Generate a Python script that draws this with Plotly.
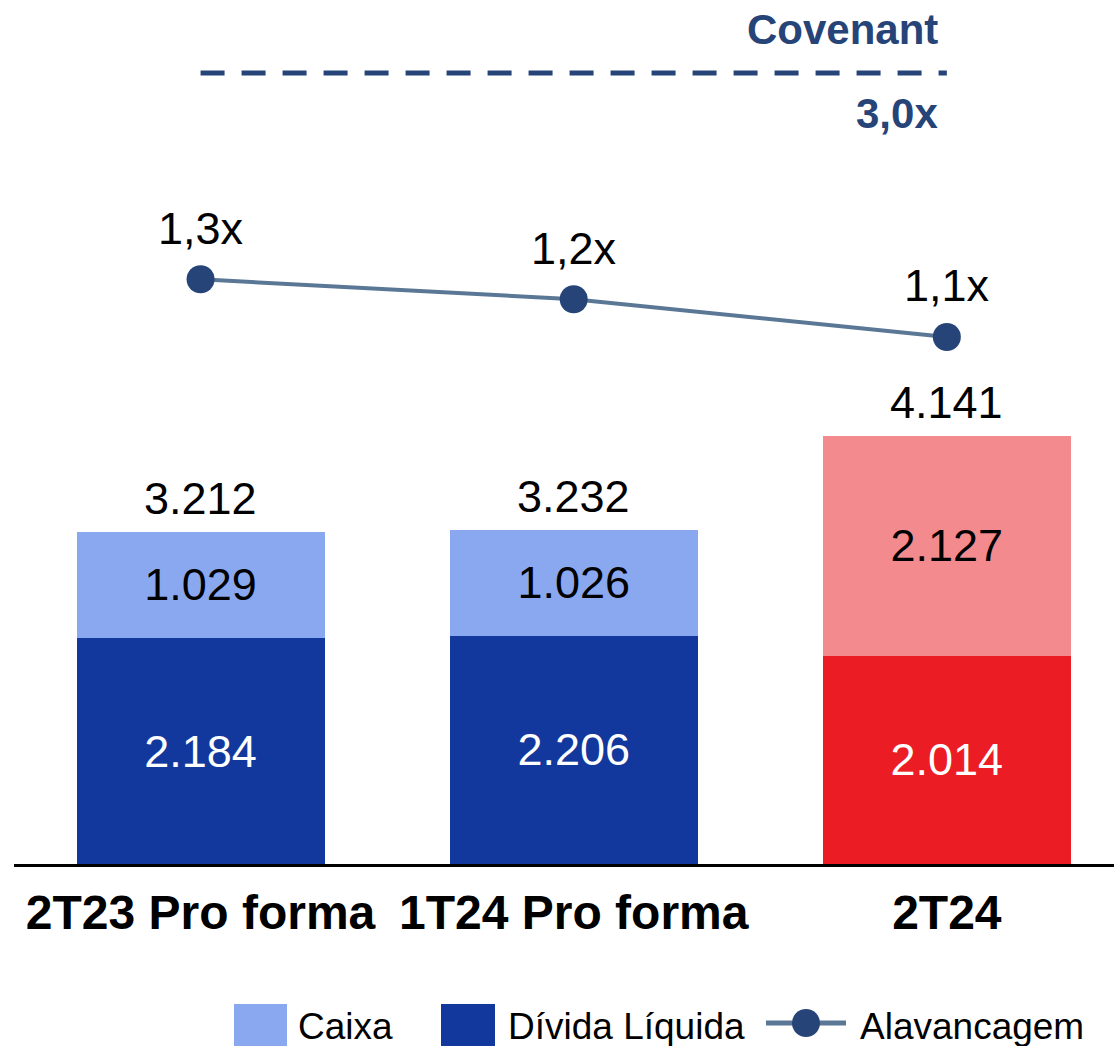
import plotly.graph_objects as go

# --- data -----------------------------------------------------------------
categories = ["2T23 Pro forma", "1T24 Pro forma", "2T24"]
divida_liquida = [2184, 2206, 2014]
caixa = [1029, 1026, 2127]
totais = [3212, 3232, 4141]
alavancagem = [1.33, 1.24, 1.07]
alavancagem_labels = ["1,3x", "1,2x", "1,1x"]
covenant = 3.0
covenant_label = "3,0x"

# --- style ----------------------------------------------------------------
DARK = "#12389E"
LIGHT = "#8AA8F0"
RED = "#EC1C24"
PINK = "#F38A8E"
NAVY = "#264478"
SLATE = "#5B7796"
FONT = "Liberation Sans, Arial, sans-serif"

W, H = 1114, 1046
ML, MB = 14, 182
PW, PH = W - ML, H - MB


def fmt(v):
    return f"{v:,}".replace(",", ".")


def px_x(p):
    return (p - ML) / PW


def px_y(p):
    return (PH - p) / PH


xs = list(range(len(categories)))
stack_top = [a + b for a, b in zip(divida_liquida, caixa)]

fig = go.Figure()
fig.add_trace(go.Bar(
    x=xs, y=divida_liquida, width=0.665, name="Dívida Líquida",
    marker=dict(color=[DARK, DARK, RED], line=dict(width=0)),
    text=[fmt(v) for v in divida_liquida], textposition="inside",
    insidetextanchor="middle", constraintext="none",
    textfont=dict(color="white", size=45, family=FONT),
    showlegend=False, hoverinfo="skip",
))
fig.add_trace(go.Bar(
    x=xs, y=caixa, width=0.665, name="Caixa",
    marker=dict(color=[LIGHT, LIGHT, PINK], line=dict(width=0)),
    text=[fmt(v) for v in caixa], textposition="inside",
    insidetextanchor="middle", constraintext="none",
    textfont=dict(color="black", size=45, family=FONT),
    showlegend=False, hoverinfo="skip",
))
fig.add_trace(go.Scatter(
    x=xs, y=alavancagem, yaxis="y2", mode="lines+markers", name="Alavancagem",
    line=dict(color=SLATE, width=4),
    marker=dict(color=NAVY, size=28, line=dict(width=0)),
    showlegend=False, hoverinfo="skip",
))
fig.add_trace(go.Scatter(
    x=[xs[0], xs[-1]], y=[covenant, covenant], yaxis="y3", mode="lines",
    line=dict(color=NAVY, width=5, dash="24px,17px"),
    showlegend=False, hoverinfo="skip",
))

ann = []
for x, top, t in zip(xs, stack_top, totais):
    ann.append(dict(x=x, y=top, xref="x", yref="y", text=fmt(t), showarrow=False,
                    yshift=33, font=dict(size=45, color="black", family=FONT)))
for x, v, lab in zip(xs, alavancagem, alavancagem_labels):
    ann.append(dict(x=x, y=v, xref="x", yref="y2", text=lab, showarrow=False,
                    yshift=51, font=dict(size=45, color="black", family=FONT)))
ann.append(dict(x=xs[-1], y=covenant, xref="x", yref="y3", text="<b>Covenant</b>",
                showarrow=False, xanchor="right", xshift=-7, yshift=44,
                font=dict(size=42, color=NAVY, family=FONT)))
ann.append(dict(x=xs[-1], y=covenant, xref="x", yref="y3", text=f"<b>{covenant_label}</b>",
                showarrow=False, xanchor="right", xshift=-7, yshift=-40,
                font=dict(size=42, color=NAVY, family=FONT)))

# legend, drawn by hand so the swatches keep their size
legend_font = dict(size=37, color="black", family=FONT)
for left, label in [(296, "Caixa"), (506, "Dívida Líquida"), (858, "Alavancagem")]:
    ann.append(dict(x=px_x(left), y=px_y(1026), xref="paper", yref="paper", text=label,
                    showarrow=False, xanchor="left", yanchor="middle", font=legend_font))

shapes = [
    dict(type="rect", xref="paper", yref="paper", x0=px_x(234), x1=px_x(287),
         y0=px_y(1004), y1=px_y(1058), fillcolor=LIGHT, line=dict(width=0)),
    dict(type="rect", xref="paper", yref="paper", x0=px_x(441), x1=px_x(495),
         y0=px_y(1004), y1=px_y(1058), fillcolor=DARK, line=dict(width=0)),
    dict(type="line", xref="paper", yref="paper", x0=px_x(766), x1=px_x(846),
         y0=px_y(1023), y1=px_y(1023), line=dict(color=SLATE, width=5)),
    dict(type="circle", xref="paper", yref="paper", x0=px_x(792), x1=px_x(820),
         y0=px_y(1009), y1=px_y(1037), fillcolor=NAVY, line=dict(width=0)),
]

fig.update_layout(
    width=W, height=H, barmode="stack",
    margin=dict(l=ML, r=0, t=0, b=MB, pad=0),
    plot_bgcolor="white", paper_bgcolor="white",
    xaxis=dict(range=[-0.5, 2.448], tickvals=xs,
               ticktext=[f"<b>{c}</b>" for c in categories],
               tickfont=dict(size=48, color="black", family=FONT),
               showgrid=False, zeroline=False, showline=True,
               linecolor="black", linewidth=3, ticks="", ticklabelstandoff=4),
    yaxis=dict(range=[0, 8356], visible=False, showgrid=False),
    yaxis2=dict(range=[-1.304, 2.588], overlaying="y", visible=False, showgrid=False),
    yaxis3=dict(range=[0, 3.277], overlaying="y", visible=False, showgrid=False),
    annotations=ann, shapes=shapes, showlegend=False,
)

# the page's default 8px body margin would shift the whole figure
fig.write_html("out.html", config={"displayModeBar": False},
               post_script="document.body.style.margin='0';")
